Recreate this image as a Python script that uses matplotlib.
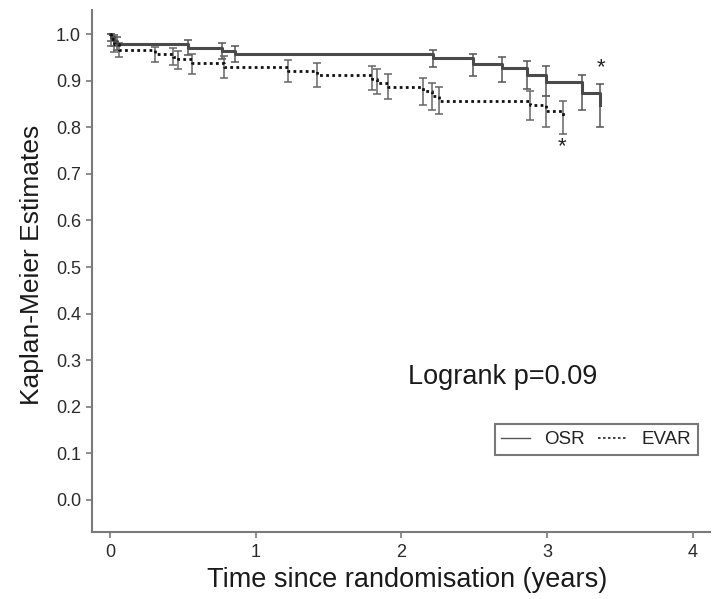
import matplotlib
matplotlib.use("Agg")
import matplotlib.pyplot as plt
import numpy as np
from matplotlib.lines import Line2D

plt.rcParams['font.family'] = ['Liberation Sans', 'DejaVu Sans']

# OSR (solid) event times, survival after event, CI
osr_t = [0.01, 0.03, 0.05, 0.535, 0.77, 0.86, 2.22, 2.49, 2.69, 2.86, 2.99, 3.24, 3.36]
osr_s = [0.993, 0.986, 0.979, 0.971, 0.964, 0.957, 0.948, 0.937, 0.928, 0.912, 0.898, 0.874, 0.848]
osr_lo = [0.985, 0.975, 0.965, 0.955, 0.947, 0.940, 0.929, 0.911, 0.898, 0.883, 0.867, 0.837, 0.801]
osr_hi = [1.000, 0.998, 0.993, 0.987, 0.981, 0.975, 0.967, 0.958, 0.951, 0.942, 0.931, 0.912, 0.893]

# EVAR (dotted)
evar_t = [0.01, 0.03, 0.06, 0.31, 0.43, 0.47, 0.56, 0.78, 1.22, 1.42, 1.80, 1.83, 1.91,
          2.15, 2.21, 2.26, 2.88, 2.99, 3.11]
evar_s = [0.990, 0.978, 0.966, 0.958, 0.952, 0.946, 0.938, 0.930, 0.921, 0.912, 0.903, 0.896, 0.887,
          0.878, 0.867, 0.857, 0.848, 0.835, 0.821]
evar_lo = [0.975, 0.962, 0.950, 0.941, 0.933, 0.926, 0.914, 0.905, 0.898, 0.887, 0.880, 0.871, 0.860,
           0.849, 0.837, 0.828, 0.815, 0.801, 0.785]
evar_hi = [1.000, 0.993, 0.980, 0.973, 0.971, 0.964, 0.958, 0.953, 0.944, 0.938, 0.931, 0.926, 0.914,
           0.905, 0.896, 0.887, 0.879, 0.867, 0.857]

star_osr = (3.37, 0.928)
star_evar = (3.10, 0.758)

yticks = [0.0, 0.1, 0.2, 0.3, 0.4, 0.5, 0.6, 0.7, 0.8, 0.9, 1.0]
xticks = [0, 1, 2, 3, 4]

fig = plt.figure(figsize=(7.12, 5.99), dpi=100)
ax = fig.add_axes([0.1292, 0.1119, 0.997 - 0.1292, 0.983 - 0.1119])

def step_xy(t, s):
    xs = [0.0] + list(t)
    ys = [1.0] + list(s)
    return xs, ys

xo, yo = step_xy(osr_t, osr_s)
ax.step(xo, yo, where='post', color='#4a4a4a', lw=2.2, zorder=3)
ax.errorbar(osr_t, osr_s, yerr=[np.array(osr_s) - np.array(osr_lo), np.array(osr_hi) - np.array(osr_s)],
            fmt='none', ecolor='#555555', elinewidth=1.1, capsize=3, capthick=1.1, zorder=2)

xe, ye = step_xy(evar_t, evar_s)
ax.step(xe, ye, where='post', color='#111111', lw=2.0, linestyle=(0, (1.0, 1.2)), zorder=3)
ax.errorbar(evar_t, evar_s, yerr=[np.array(evar_s) - np.array(evar_lo), np.array(evar_hi) - np.array(evar_s)],
            fmt='none', ecolor='#666666', elinewidth=1.1, capsize=3, capthick=1.1, zorder=2)

ax.text(star_osr[0], star_osr[1], '*', ha='center', va='center', fontsize=16, color='#222222')
ax.text(star_evar[0], star_evar[1], '*', ha='center', va='center', fontsize=16, color='#222222')

ax.text(2.045, 0.264, 'Logrank p=0.09', ha='left', va='center', fontsize=19.5, color='#1a1a1a')

ax.set_xlim(-0.1235, 4.117)
ax.set_ylim(-0.0687, 1.0515)
ax.set_xticks(xticks)
ax.set_xticklabels([str(v) for v in xticks])
ax.set_yticks(yticks)
ax.set_yticklabels([f'{v:.1f}' for v in yticks])

for side in ['top', 'right']:
    ax.spines[side].set_visible(False)
for side in ['left', 'bottom']:
    ax.spines[side].set_color('#7a7a7a')
    ax.spines[side].set_linewidth(1.5)
ax.tick_params(axis='both', colors='#7a7a7a', length=4, width=1.2, labelsize=13, labelcolor='#2a2a2a')
ax.tick_params(axis='y', pad=4)
ax.tick_params(axis='x', pad=5)

h1 = Line2D([], [], color='#555555', lw=1.0)
h2 = Line2D([], [], color='#222222', lw=1.2, linestyle=(0, (1.5, 1.5)))
leg = ax.legend([h1, h2], ['OSR', 'EVAR'], ncol=2, loc='center', bbox_to_anchor=(0.816, 0.177),
                fontsize=13.5, frameon=True, fancybox=False, handlelength=1.55, handletextpad=0.75,
                columnspacing=0.7, borderpad=0.35, borderaxespad=0)
leg.get_frame().set_edgecolor('#555555')
leg.get_frame().set_linewidth(1.5)
for txt in leg.get_texts():
    txt.set_color('#222222')

fig.text(32 / 712, 1 - 265 / 599, 'Kaplan-Meier Estimates', rotation=90, ha='center', va='center',
         fontsize=19, color='#1a1a1a')
fig.text(407.5 / 712, 1 - 580 / 599, 'Time since randomisation (years)', ha='center', va='center',
         fontsize=19.5, color='#1a1a1a')

fig.savefig('out.png', dpi=100)
